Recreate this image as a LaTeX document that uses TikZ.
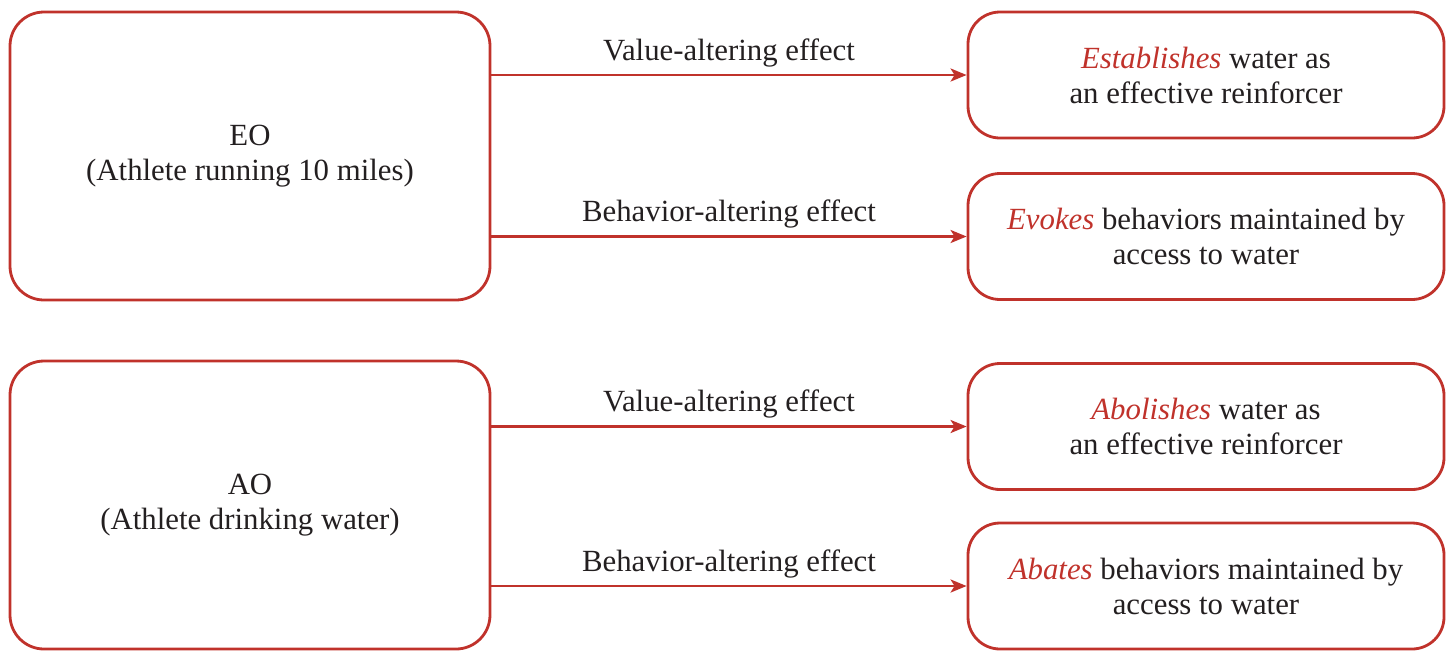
\documentclass[tikz,border=0pt]{standalone}
\usepackage{fontspec}
\setmainfont{Liberation Serif}
\usetikzlibrary{positioning, arrows.meta}
\definecolor{moaccent}{HTML}{C0322B}
\definecolor{motext}{HTML}{231F20}
\newcommand{\mokey}[1]{\textcolor{moaccent}{\textit{#1}}}

\begin{document}
\begin{tikzpicture}[%
		x=0.5pt, y=-0.5pt,
		operation/.style={
			rectangle,
			rounded corners=17pt,
			minimum width=240pt,
			minimum height=144pt,
			line width=1.4pt,
			draw=moaccent,
			text=motext,
			align=center,
			font=\fontsize{15.4}{17.5}\selectfont
		},
		effect/.style={
			rectangle,
			rounded corners=16pt,
			minimum width=238pt,
			minimum height=63pt,
			line width=1.4pt,
			draw=moaccent,
			text=motext,
			align=center,
			font=\fontsize{15.4}{17.5}\selectfont
		},
		elabel/.style={
			above,
			text=motext,
			font=\fontsize{15.4}{17.5}\selectfont
		},
		effectarrow/.style={
			line width=1.4pt,
			moaccent,
			-{Stealth[length=8pt,width=6.5pt,inset=2pt]}
		}]

		\useasboundingbox (0,0) rectangle (1446,650);

		% EO
		\node (EO) [operation] at (250,156) {EO\\(Athlete running 10 miles)};
		\node (EO-val) [effect] at (1206,75) {\mokey{Establishes} water as\\an effective reinforcer};
		\node (EO-beh) [effect] at (1206,236.5) {\mokey{Evokes} behaviors maintained by\\access to water};

		% AO
		\node (AO) [operation] at (250,505) {AO\\(Athlete drinking water)};
		\node (AO-val) [effect] at (1206,426.5) {\mokey{Abolishes} water as\\an effective reinforcer};
		\node (AO-beh) [effect] at (1206,586) {\mokey{Abates} behaviors maintained by\\access to water};

		% EFFECT LINES

		\draw[effectarrow] (EO.east |- EO-val.west) -- node[elabel] {Value-altering effect} (EO-val.west);
		\draw[effectarrow] (EO.east |- EO-beh.west) -- node[elabel] {Behavior-altering effect} (EO-beh.west);
		\draw[effectarrow] (AO.east |- AO-val.west) -- node[elabel] {Value-altering effect} (AO-val.west);
		\draw[effectarrow] (AO.east |- AO-beh.west) -- node[elabel] {Behavior-altering effect} (AO-beh.west);
\end{tikzpicture}
\end{document}
